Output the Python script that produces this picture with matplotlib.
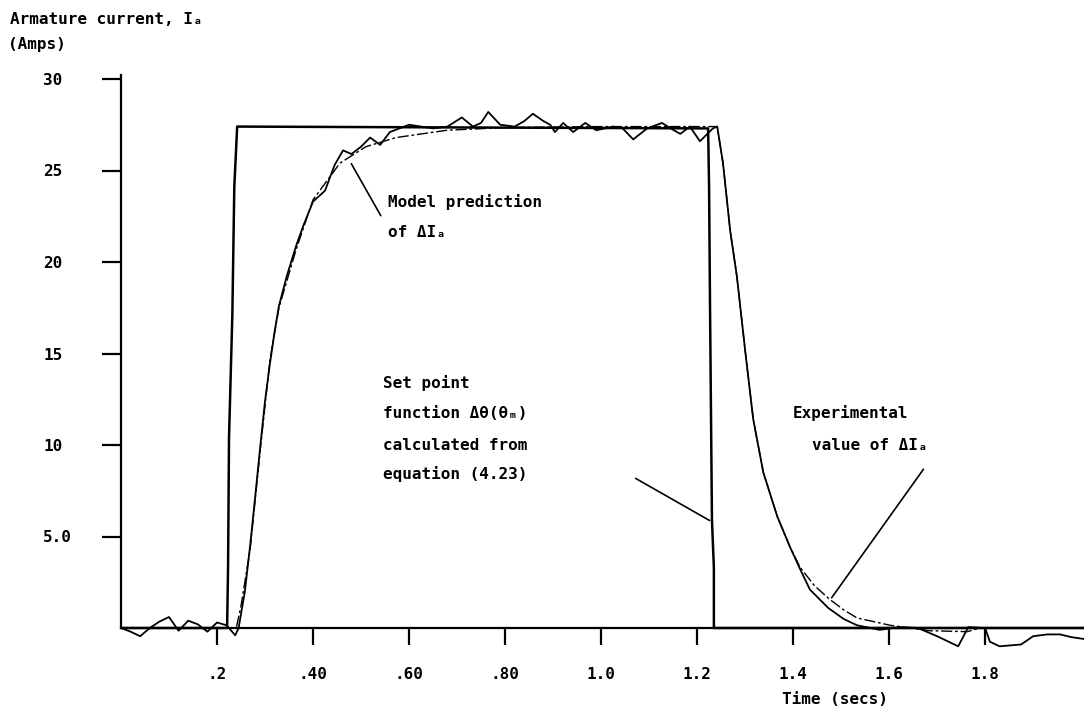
import matplotlib
matplotlib.use("Agg")
import matplotlib.pyplot as plt
from matplotlib.ticker import FixedLocator, FixedFormatter

plt.rcParams['font.family'] = ['DejaVu Sans Mono', 'DejaVu Sans']
plt.rcParams['font.weight'] = 'bold'

# set point function (square pulse)
sp_t = [0.0, 0.221, 0.223, 0.225, 0.232, 0.236, 0.242, 1.223, 1.225, 1.227, 1.231, 1.235, 1.235, 2.006]
sp_v = [0.0, 0.0, 3.3, 10.4, 17.2, 24.1, 27.4, 27.3, 24.1, 17.5, 5.9, 3.3, 0.0, 0.0]

# model prediction
mod_t = [0.0, 0.240, 0.250, 0.269, 0.290, 0.310, 0.329, 0.365, 0.400, 0.456, 0.510,
         0.573, 0.679, 0.800, 1.000, 1.242, 1.254, 1.269, 1.283, 1.300, 1.317, 1.338,
         1.367, 1.394, 1.415, 1.445, 1.477, 1.505, 1.533, 1.602, 1.685, 1.763, 1.790, 2.006]
mod_v = [0.0, 0.0, 1.2, 4.3, 9.7, 14.6, 17.5, 20.7, 23.4, 25.4, 26.3,
         26.8, 27.2, 27.35, 27.4, 27.4, 25.4, 21.7, 19.2, 15.2, 11.4, 8.5,
         6.1, 4.4, 3.3, 2.3, 1.55, 1.0, 0.55, 0.15, -0.15, -0.2, 0.0, 0.0]

# experimental armature current
exp_t = [0.0, 0.02, 0.04, 0.06, 0.08, 0.10, 0.12, 0.14, 0.16, 0.18, 0.20, 0.22, 0.238,
         0.245, 0.258, 0.269, 0.280, 0.290, 0.300, 0.310, 0.320, 0.329, 0.345, 0.365,
         0.380, 0.400, 0.425, 0.445, 0.4625, 0.480, 0.500, 0.519, 0.540, 0.560, 0.600,
         0.650, 0.680, 0.710, 0.733, 0.750, 0.765, 0.790, 0.820, 0.840, 0.858, 0.880,
         0.894, 0.904, 0.921, 0.942, 0.967, 0.990, 1.025, 1.045, 1.067, 1.096, 1.127,
         1.145, 1.165, 1.185, 1.206, 1.233, 1.242,
         1.254, 1.269, 1.283, 1.300, 1.317, 1.338, 1.367, 1.394, 1.415, 1.435, 1.473,
         1.505, 1.533, 1.580, 1.623, 1.660, 1.700, 1.744, 1.765, 1.800, 1.810, 1.830,
         1.875, 1.900, 1.930, 1.956, 1.980, 2.006]
exp_v = [0.0, -0.2, -0.45, 0.0, 0.35, 0.6, -0.15, 0.4, 0.2, -0.2, 0.3, 0.15, -0.4,
         0.0, 2.0, 4.5, 7.3, 9.9, 12.4, 14.4, 16.2, 17.6, 19.2, 20.9,
         22.0, 23.3, 23.9, 25.3, 26.1, 25.9, 26.3, 26.8, 26.4, 27.1, 27.5,
         27.3, 27.4, 27.9, 27.4, 27.6, 28.2, 27.5, 27.4, 27.7, 28.1, 27.7,
         27.5, 27.1, 27.6, 27.1, 27.6, 27.2, 27.4, 27.3, 26.7, 27.3, 27.6,
         27.3, 27.0, 27.4, 26.6, 27.3, 27.4,
         25.4, 21.7, 19.2, 15.2, 11.4, 8.5, 6.1, 4.4, 3.2, 2.1, 1.1,
         0.5, 0.15, -0.1, 0.05, 0.0, -0.45, -1.0, 0.05, 0.0, -0.75, -1.0,
         -0.9, -0.45, -0.35, -0.35, -0.5, -0.6]

x_ticks = [0.2, 0.4, 0.6, 0.8, 1.0, 1.2, 1.4, 1.6, 1.8]
x_labels = ['.2', '.40', '.60', '.80', '1.0', '1.2', '1.4', '1.6', '1.8']
y_ticks = [5, 10, 15, 20, 25, 30]
y_labels = ['5.0', '10', '15', '20', '25', '30']

W, H = 1084, 714
px_per_unit = 549 / 30
y_min = -2.0
fig = plt.figure(figsize=(W / 100, H / 100), dpi=100)
bottom_px = 628 - y_min * px_per_unit
ax = fig.add_axes([121 / W, 1 - bottom_px / H, 963 / W, (bottom_px - 79) / H])

ax.plot(sp_t, sp_v, color='black', lw=1.8)
ax.plot(mod_t, mod_v, color='black', lw=1.0, linestyle=(0, (8, 2, 2, 2)))
ax.plot(exp_t, exp_v, color='black', lw=1.3)

ax.set_xlim(0, 2.006)
ax.set_ylim(y_min, 30)
for s in ['top', 'right']:
    ax.spines[s].set_visible(False)
ax.spines['bottom'].set_position(('data', 0))
ax.spines['left'].set_linewidth(1.6)
ax.spines['bottom'].set_linewidth(1.6)
ax.spines['left'].set_bounds(0, 30.2)

ax.xaxis.set_major_locator(FixedLocator(x_ticks))
ax.xaxis.set_major_formatter(FixedFormatter(x_labels))
ax.yaxis.set_major_locator(FixedLocator(y_ticks))
ax.yaxis.set_major_formatter(FixedFormatter(y_labels))
ax.tick_params(axis='x', direction='out', length=12, width=1.6, pad=16, labelsize=11.5)
ax.tick_params(axis='y', direction='out', length=14, width=1.6, pad=42, labelsize=11.5)
for lab in ax.get_yticklabels():
    lab.set_horizontalalignment('left')

# axis titles
fig.text(10 / W, 1 - 20 / H, 'Armature current, Iₐ', fontsize=11.5, va='center', ha='left')
fig.text(8 / W, 1 - 45 / H, '(Amps)', fontsize=11.5, va='center', ha='left')
fig.text(835 / W, 1 - 700 / H, 'Time (secs)', fontsize=11.5, va='center', ha='center')

# annotations
ax.text(0.556, 23.3, 'Model prediction', fontsize=11.5, va='center')
ax.text(0.556, 21.6, 'of ΔIₐ', fontsize=11.5, va='center')
ax.annotate('', xy=(0.477, 25.5), xytext=(0.544, 22.4),
            arrowprops=dict(arrowstyle='-', color='black', lw=1.2))

ax.text(0.546, 13.4, 'Set point', fontsize=11.5, va='center')
ax.text(0.546, 11.7, 'function Δθ(θₘ)', fontsize=11.5, va='center')
ax.text(0.546, 10.0, 'calculated from', fontsize=11.5, va='center')
ax.text(0.546, 8.4, 'equation (4.23)', fontsize=11.5, va='center')
ax.annotate('', xy=(1.231, 5.8), xytext=(1.067, 8.25),
            arrowprops=dict(arrowstyle='-', color='black', lw=1.2))

ax.text(1.40, 11.75, 'Experimental', fontsize=11.5, va='center')
ax.text(1.44, 10.0, 'value of ΔIₐ', fontsize=11.5, va='center')
ax.annotate('', xy=(1.477, 1.53), xytext=(1.675, 8.8),
            arrowprops=dict(arrowstyle='-', color='black', lw=1.2))

fig.savefig('out.png', dpi=100)
